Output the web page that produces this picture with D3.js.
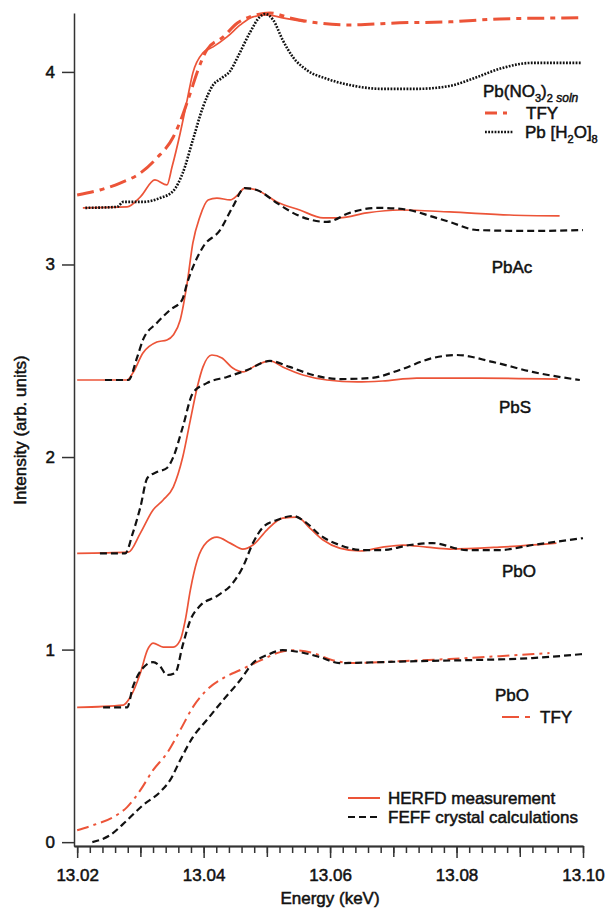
<!DOCTYPE html>
<html>
<head>
<meta charset="utf-8">
<script src="https://cdn.jsdelivr.net/npm/d3@7"></script>
<style>
  body { margin: 0; background: #fff; }
  svg text { font-family: "Liberation Sans", Arial, sans-serif; fill: #111; stroke: #111; stroke-width: 0.5px; }
</style>
</head>
<body>
<div id="chart"></div>
<script>
// [energy keV, intensity arb. units]

// Pb(NO3)2 soln
const no3Herfd = [[13.0209,3.294],[13.0279,3.299],[13.0300,3.351],[13.0323,3.439],[13.0342,3.413],[13.0350,3.506],
  [13.0363,3.683],[13.0374,3.855],[13.0383,3.995],[13.0399,4.099],[13.0415,4.130],[13.0437,4.182],[13.0458,4.244],
  [13.0478,4.286],[13.0500,4.296],[13.0525,4.281],[13.0560,4.260]];
const no3Tfy = [[13.0200,3.361],[13.0236,3.387],[13.0268,3.423],[13.0300,3.475],[13.0326,3.553],[13.0352,3.662],
  [13.0367,3.777],[13.0379,3.891],[13.0390,4.000],[13.0405,4.114],[13.0431,4.182],[13.0454,4.255],[13.0473,4.286],
  [13.0505,4.306],[13.0536,4.281],[13.0579,4.255],[13.0631,4.244],[13.0710,4.255],[13.0789,4.260],[13.0868,4.275],
  [13.0998,4.281]];
const no3Aqua = [[13.0213,3.294],[13.0263,3.299],[13.0273,3.325],[13.0304,3.325],[13.0331,3.345],[13.0352,3.382],
  [13.0367,3.475],[13.0383,3.647],[13.0399,3.818],[13.0415,3.932],[13.0429,3.969],[13.0442,4.005],[13.0454,4.078],
  [13.0473,4.203],[13.0489,4.286],[13.0497,4.301],[13.0510,4.270],[13.0525,4.166],[13.0541,4.078],[13.0563,4.010],
  [13.0595,3.964],[13.0631,3.932],[13.0683,3.912],[13.0737,3.912],[13.0789,3.927],[13.0829,3.969],[13.0868,4.016],
  [13.0920,4.047],[13.0998,4.047]];

// PbAc
const pbacHerfd = [[13.0200,2.400],[13.0279,2.400],[13.0288,2.436],[13.0304,2.540],[13.0326,2.597],[13.0342,2.608],
  [13.0352,2.634],[13.0363,2.712],[13.0374,2.904],[13.0383,3.112],[13.0394,3.247],[13.0407,3.335],[13.0421,3.345],
  [13.0442,3.335],[13.0454,3.361],[13.0465,3.397],[13.0484,3.387],[13.0516,3.325],[13.0552,3.283],[13.0589,3.242],
  [13.0615,3.242],[13.0658,3.268],[13.0710,3.283],[13.0789,3.273],[13.0884,3.257],[13.0963,3.252]];
const pbacFeff = [[13.0244,2.400],[13.0281,2.400],[13.0295,2.519],[13.0304,2.608],[13.0326,2.696],[13.0347,2.764],
  [13.0366,2.816],[13.0374,2.904],[13.0399,3.091],[13.0426,3.179],[13.0446,3.299],[13.0465,3.397],[13.0484,3.387],
  [13.0516,3.319],[13.0548,3.257],[13.0595,3.221],[13.0631,3.268],[13.0674,3.294],[13.0715,3.288],[13.0763,3.247],
  [13.0789,3.221],[13.0832,3.179],[13.0916,3.174],[13.1000,3.179]];

// PbS
const pbsHerfd = [[13.0200,1.500],[13.0281,1.506],[13.0300,1.605],[13.0320,1.725],[13.0336,1.777],[13.0352,1.844],
  [13.0367,2.000],[13.0379,2.192],[13.0390,2.364],[13.0399,2.468],[13.0413,2.530],[13.0429,2.514],[13.0446,2.462],
  [13.0462,2.442],[13.0484,2.478],[13.0505,2.499],[13.0525,2.468],[13.0557,2.426],[13.0595,2.400],[13.0643,2.390],
  [13.0683,2.395],[13.0737,2.410],[13.0837,2.410],[13.0960,2.405]];
const pbsFeff = [[13.0236,1.500],[13.0276,1.500],[13.0288,1.605],[13.0300,1.740],[13.0311,1.891],[13.0326,1.922],
  [13.0342,1.943],[13.0352,2.000],[13.0367,2.156],[13.0383,2.332],[13.0405,2.384],[13.0437,2.416],[13.0469,2.452],
  [13.0505,2.499],[13.0536,2.468],[13.0573,2.426],[13.0615,2.405],[13.0664,2.410],[13.0710,2.452],[13.0762,2.514],
  [13.0800,2.530],[13.0857,2.494],[13.0920,2.442],[13.0995,2.400]];

// PbO
const pboHerfd = [[13.0200,0.700],[13.0273,0.712],[13.0284,0.753],[13.0300,0.878],[13.0311,0.997],[13.0320,1.034],
  [13.0336,1.013],[13.0352,1.013],[13.0363,1.049],[13.0371,1.153],[13.0379,1.309],[13.0390,1.465],[13.0405,1.558],
  [13.0421,1.584],[13.0442,1.553],[13.0462,1.522],[13.0478,1.543],[13.0500,1.621],[13.0525,1.683],[13.0548,1.688],
  [13.0568,1.631],[13.0589,1.569],[13.0615,1.527],[13.0647,1.512],[13.0683,1.532],[13.0715,1.543],[13.0753,1.532],
  [13.0789,1.522],[13.0868,1.532],[13.0958,1.553]];
const pboFeff = [[13.0241,0.700],[13.0279,0.700],[13.0288,0.805],[13.0304,0.904],[13.0320,0.935],[13.0331,0.914],
  [13.0342,0.868],[13.0355,0.878],[13.0367,1.023],[13.0379,1.153],[13.0394,1.226],[13.0421,1.278],[13.0446,1.345],
  [13.0462,1.429],[13.0478,1.553],[13.0494,1.636],[13.0516,1.673],[13.0541,1.694],[13.0563,1.657],[13.0584,1.595],
  [13.0615,1.543],[13.0652,1.517],[13.0683,1.517],[13.0726,1.543],[13.0762,1.553],[13.0816,1.517],[13.0868,1.517],
  [13.0920,1.543],[13.1000,1.579]];

// PbO TFY
const pboTfy = [[13.0200,0.062],[13.0225,0.088],[13.0257,0.130],[13.0279,0.182],[13.0300,0.270],[13.0320,0.374],
  [13.0342,0.462],[13.0363,0.582],[13.0383,0.701],[13.0405,0.790],[13.0431,0.852],[13.0458,0.894],[13.0491,0.945],
  [13.0521,0.987],[13.0541,0.997],[13.0573,0.982],[13.0604,0.945],[13.0636,0.930],[13.0710,0.940],[13.0789,0.951],
  [13.0868,0.966],[13.0947,0.982]];
const pboTfyFeff = [[13.0224,0.000],[13.0252,0.036],[13.0279,0.114],[13.0304,0.192],[13.0331,0.260],[13.0347,0.322],
  [13.0363,0.426],[13.0383,0.545],[13.0405,0.634],[13.0431,0.738],[13.0458,0.842],[13.0478,0.930],[13.0500,0.971],
  [13.0525,0.997],[13.0552,0.987],[13.0584,0.961],[13.0615,0.930],[13.0683,0.935],[13.0737,0.940],[13.0816,0.945],
  [13.0920,0.956],[13.1000,0.977]];

const xLabelTicks = [13.02, 13.04, 13.06, 13.08, 13.10];
const xMidTicks = [13.03, 13.05, 13.07, 13.09];
const yTicks = [0, 1, 2, 3, 4];

const red = "#ec5438";
const black = "#111";

const width = 606, height = 908;

const svg = d3.select("#chart").append("svg")
  .attr("width", width)
  .attr("height", height);

const x = d3.scaleLinear().domain([13.0195, 13.10]).range([74, 583]);
const y = d3.scaleLinear().domain([-0.02, 4.306]).range([846, 13]);

// axes
const xMinorTicks = d3.range(0, 41).map(function(i) { return 13.02 + i * 0.002; });

svg.append("g")
  .attr("transform", "translate(0,846)")
  .call(d3.axisBottom(x).tickValues(xMinorTicks).tickSize(7).tickSizeOuter(0).tickFormat(""));
svg.append("g")
  .attr("transform", "translate(0,846)")
  .call(d3.axisBottom(x).tickValues(xMidTicks).tickSize(11).tickSizeOuter(0).tickFormat(""));
svg.append("g")
  .attr("transform", "translate(0,846)")
  .call(d3.axisBottom(x).tickValues(xLabelTicks).tickSize(12).tickSizeOuter(0).tickPadding(11).tickFormat(d3.format(".2f")));

svg.append("g")
  .attr("transform", "translate(74,0)")
  .call(d3.axisLeft(y).tickValues(yTicks).tickSize(12).tickSizeOuter(0).tickPadding(7).tickFormat(d3.format("d")));

svg.selectAll(".domain, .tick line")
  .attr("stroke", "#333")
  .attr("stroke-width", 1.5);
svg.selectAll(".tick text")
  .attr("font-size", 17)
  .attr("font-family", "Liberation Sans, Arial, sans-serif");

// curves
const line = d3.line()
  .x(function(d) { return x(d[0]); })
  .y(function(d) { return y(d[1]); })
  .curve(d3.curveMonotoneX);

const curves = [
  { data: no3Tfy,     color: red,   w: 3,   dash: "17,6,5,6" },
  { data: pboTfy,     color: red,   w: 2,   dash: "12,5,3,5" },
  { data: no3Herfd,   color: red,   w: 1.7, dash: null },
  { data: pbacHerfd,  color: red,   w: 1.7, dash: null },
  { data: pbsHerfd,   color: red,   w: 1.7, dash: null },
  { data: pboHerfd,   color: red,   w: 1.7, dash: null },
  { data: no3Aqua,    color: black, w: 2.6, dash: "1.8,1.4" },
  { data: pbacFeff,   color: black, w: 2.2, dash: "7,4" },
  { data: pbsFeff,    color: black, w: 2.2, dash: "7,4" },
  { data: pboFeff,    color: black, w: 2.2, dash: "7,4" },
  { data: pboTfyFeff, color: black, w: 2.2, dash: "7,4" }
];

svg.append("g")
  .selectAll("path")
  .data(curves)
  .enter().append("path")
  .attr("d", function(d) { return line(d.data); })
  .attr("fill", "none")
  .attr("stroke", function(d) { return d.color; })
  .attr("stroke-width", function(d) { return d.w; })
  .attr("stroke-dasharray", function(d) { return d.dash; });

// axis labels
svg.append("text")
  .attr("x", 330)
  .attr("y", 904)
  .attr("text-anchor", "middle")
  .attr("font-size", 17)
  .text("Energy (keV)");

svg.append("text")
  .attr("transform", "translate(26,430) rotate(-90)")
  .attr("text-anchor", "middle")
  .attr("font-size", 17)
  .text("Intensity (arb. units)");

// sample labels
const t1 = svg.append("text").attr("x", 483).attr("y", 97).attr("font-size", 17);
t1.append("tspan").text("Pb(NO");
t1.append("tspan").attr("font-size", 11).attr("dy", 5).text("3");
t1.append("tspan").attr("dy", -5).text(")");
t1.append("tspan").attr("font-size", 11).attr("dy", 5).text("2");
t1.append("tspan").attr("font-size", 12).attr("font-style", "italic").text(" soln");

svg.append("line").attr("x1", 485).attr("x2", 513).attr("y1", 113).attr("y2", 113)
  .attr("stroke", red).attr("stroke-width", 3).attr("stroke-dasharray", "12,6,4,6");
svg.append("text").attr("x", 526).attr("y", 119).attr("font-size", 17).text("TFY");

svg.append("line").attr("x1", 485).attr("x2", 513).attr("y1", 132).attr("y2", 132)
  .attr("stroke", black).attr("stroke-width", 2.6).attr("stroke-dasharray", "1.8,1.4");
const t2 = svg.append("text").attr("x", 525).attr("y", 138).attr("font-size", 17);
t2.append("tspan").text("Pb [H");
t2.append("tspan").attr("font-size", 11).attr("dy", 5).text("2");
t2.append("tspan").attr("dy", -5).text("O]");
t2.append("tspan").attr("font-size", 11).attr("dy", 5).text("8");

svg.append("text").attr("x", 512).attr("y", 273).attr("text-anchor", "middle").attr("font-size", 17).text("PbAc");
svg.append("text").attr("x", 515).attr("y", 413).attr("text-anchor", "middle").attr("font-size", 17).text("PbS");
svg.append("text").attr("x", 519).attr("y", 577).attr("text-anchor", "middle").attr("font-size", 17).text("PbO");
svg.append("text").attr("x", 512).attr("y", 701).attr("text-anchor", "middle").attr("font-size", 17).text("PbO");

svg.append("line").attr("x1", 502).attr("x2", 530).attr("y1", 717).attr("y2", 717)
  .attr("stroke", red).attr("stroke-width", 2.2).attr("stroke-dasharray", "17,6,5,6");
svg.append("text").attr("x", 540).attr("y", 723).attr("font-size", 17).text("TFY");

// legend
svg.append("line").attr("x1", 348).attr("x2", 380).attr("y1", 798).attr("y2", 798)
  .attr("stroke", red).attr("stroke-width", 2);
svg.append("text").attr("x", 388).attr("y", 804).attr("font-size", 17).text("HERFD measurement");

svg.append("line").attr("x1", 348).attr("x2", 380).attr("y1", 817).attr("y2", 817)
  .attr("stroke", black).attr("stroke-width", 2.2).attr("stroke-dasharray", "7,4");
svg.append("text").attr("x", 388).attr("y", 823).attr("font-size", 17).text("FEFF crystal calculations");
</script>
</body>
</html>
